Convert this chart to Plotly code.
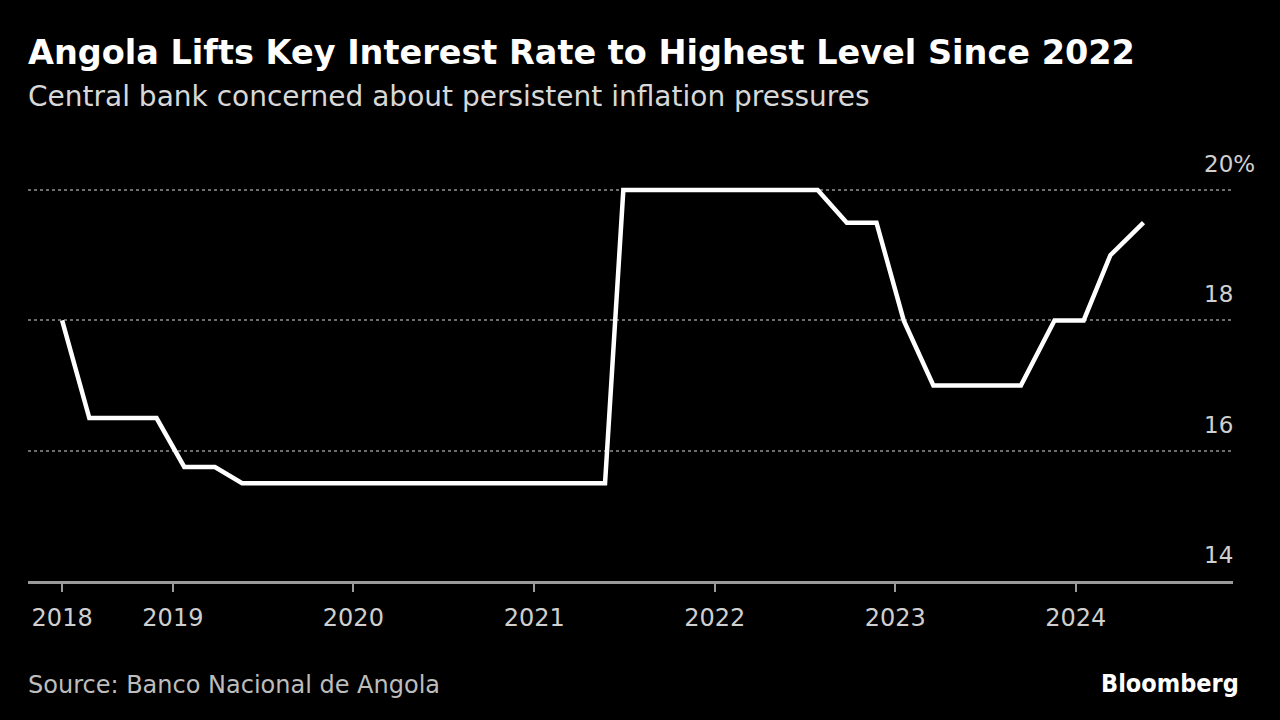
import plotly.graph_objects as go

dates = [
    "2018-05-22", "2018-07-16", "2018-11-29", "2019-01-24", "2019-03-27",
    "2019-05-21", "2021-05-24", "2021-06-30", "2022-07-28", "2022-09-25",
    "2022-11-24", "2023-01-18", "2023-03-19", "2023-09-12", "2023-11-19",
    "2024-01-17", "2024-03-11", "2024-05-17",
]
rates = [
    18.0, 16.5, 16.5, 15.75, 15.75,
    15.5, 15.5, 20.0, 20.0, 19.5,
    19.5, 18.0, 17.0, 17.0, 18.0,
    18.0, 19.0, 19.5,
]

x_tickvals = ["2018-05-22", "2019-01-01", "2020-01-01", "2021-01-01",
              "2022-01-01", "2023-01-01", "2024-01-01"]
x_ticktext = ["2018", "2019", "2020", "2021", "2022", "2023", "2024"]

y_tickvals = [14, 16, 18, 20]
y_ticktext = ["14", "16", "18", "20%"]

title = "Angola Lifts Key Interest Rate to Highest Level Since 2022"
subtitle = "Central bank concerned about persistent inflation pressures"
source = "Source: Banco Nacional de Angola"

W, H = 1280, 720
ml, mr, mt, mb = 28, 47, 151, 139
plot_w = W - ml - mr
plot_h = H - mt - mb

COND = "DejaVu Sans Condensed"
WIDE = "DejaVu Sans"

def py(ypix):
    return (H - mb - ypix) / plot_h

def px(xpix):
    return (xpix - ml) / plot_w

fig = go.Figure()
fig.add_trace(go.Scatter(
    x=dates, y=rates, mode="lines",
    line=dict(color="#ffffff", width=4.5),
    hoverinfo="skip", showlegend=False,
))

fig.update_layout(
    width=W, height=H,
    margin=dict(l=ml, r=mr, t=mt, b=mb),
    paper_bgcolor="#000000", plot_bgcolor="#000000",
    font=dict(family=WIDE, color="#cfcfcf"),
    xaxis=dict(
        type="date",
        range=["2018-03-14", "2024-11-14"],
        tickvals=x_tickvals, ticktext=x_ticktext,
        tickfont=dict(size=24, color="#cfcfcf", family=WIDE),
        ticklabelstandoff=5,
        showgrid=False, zeroline=False,
        showline=True, linecolor="#9a9a9a", linewidth=2.5,
        ticks="outside", ticklen=8, tickwidth=2, tickcolor="#9a9a9a",
        fixedrange=True,
    ),
    yaxis=dict(
        range=[14, 20.6],
        side="right",
        tickvals=y_tickvals, ticktext=y_ticktext,
        showticklabels=False,
        showgrid=True, gridcolor="#6e6e6e", gridwidth=1.5, griddash="dot",
        zeroline=False, showline=False, ticks="",
        fixedrange=True,
    ),
)

# y tick labels placed above their gridlines, left aligned as in the reference
for v, t in zip(y_tickvals, y_ticktext):
    fig.add_annotation(
        x=px(1202), xref="paper", y=v, yref="y",
        text=t, showarrow=False, xanchor="left", yanchor="bottom",
        yshift=11, font=dict(size=23, color="#cfcfcf", family=WIDE),
    )

fig.add_annotation(
    x=px(26), xref="paper", y=py(53), yref="paper",
    text="<b>" + title + "</b>", showarrow=False, xanchor="left", yanchor="middle",
    font=dict(size=33.5, color="#ffffff", family=WIDE),
)
fig.add_annotation(
    x=px(26), xref="paper", y=py(96), yref="paper",
    text=subtitle, showarrow=False, xanchor="left", yanchor="middle",
    font=dict(size=28, color="#d8d8d8", family=WIDE),
)
fig.add_annotation(
    x=px(26), xref="paper", y=py(685), yref="paper",
    text=source, showarrow=False, xanchor="left", yanchor="middle",
    font=dict(size=24, color="#bdbdbd", family=WIDE),
)
fig.add_annotation(
    x=px(1241), xref="paper", y=py(683), yref="paper",
    text="<b>Bloomberg</b>", showarrow=False, xanchor="right", yanchor="middle",
    font=dict(size=25, color="#ffffff", family=COND),
)

fig.write_html(
    "out.html",
    config={"displayModeBar": False},
    post_script="document.body.style.margin='0';document.body.style.background='#000';",
)
